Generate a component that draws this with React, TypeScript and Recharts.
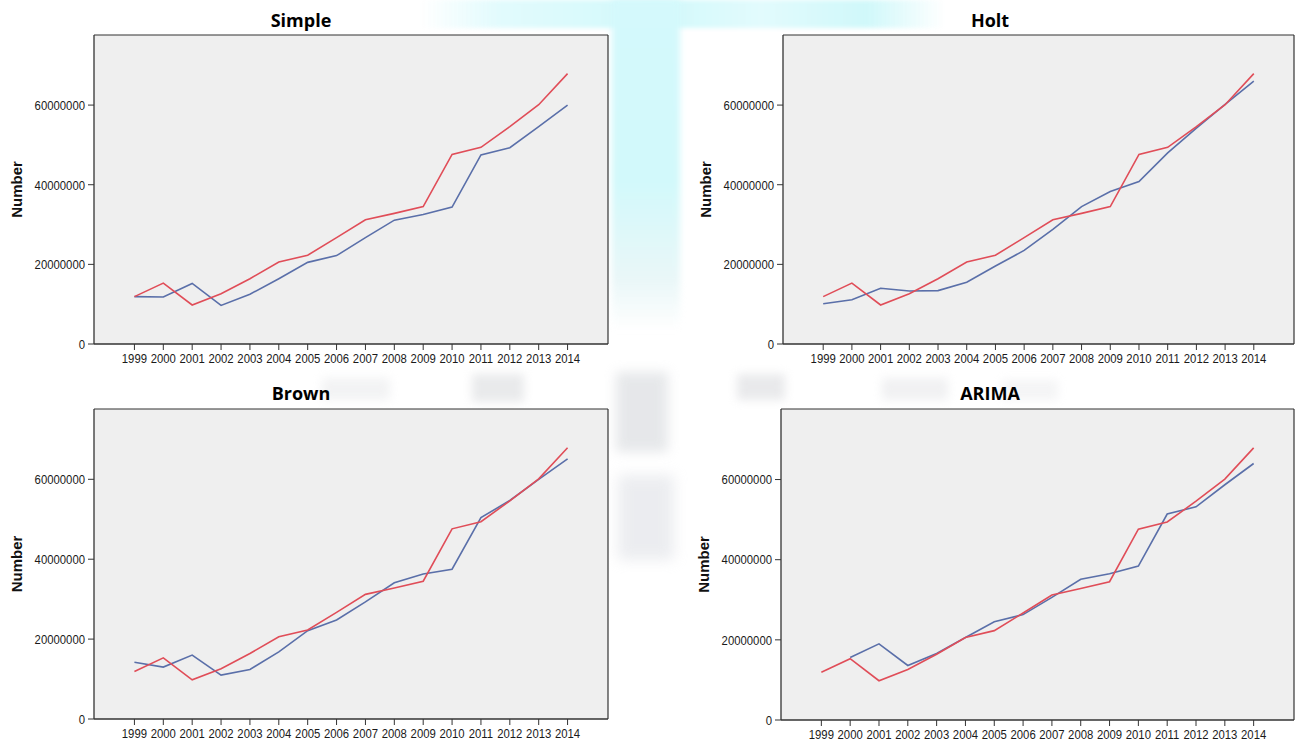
import React from 'react';
import { LineChart, Line, XAxis, YAxis, CartesianGrid, Label, ReferenceLine } from 'recharts';

// ---------- data ----------
const years = [1999, 2000, 2001, 2002, 2003, 2004, 2005, 2006, 2007, 2008, 2009, 2010, 2011, 2012, 2013, 2014];

const actualValues = [
  11900000, 15300000, 9800000, 12600000, 16400000, 20600000, 22300000, 26700000,
  31200000, 32800000, 34500000, 47600000, 49400000, 54600000, 60100000, 67900000,
];

const simpleFit = [
  11900000, 11800000, 15200000, 9700000, 12500000, 16400000, 20500000, 22200000,
  26700000, 31100000, 32500000, 34400000, 47500000, 49300000, 54600000, 60000000,
];

const holtFit = [
  10100000, 11100000, 14000000, 13300000, 13400000, 15500000, 19600000, 23500000,
  28800000, 34500000, 38300000, 40800000, 48000000, 54200000, 60200000, 66000000,
];

const brownFit = [
  14200000, 13000000, 16000000, 11000000, 12400000, 16800000, 22100000, 24800000,
  29300000, 34100000, 36300000, 37500000, 50400000, 54700000, 60000000, 65100000,
];

const arimaFit = [
  null, 15600000, 19000000, 13600000, 16600000, 20600000, 24500000, 26300000,
  30600000, 35100000, 36500000, 38400000, 51400000, 53200000, 58700000, 64000000,
];

const yTicks = [0, 20000000, 40000000, 60000000];
const yMax = 77600000;
const xDomain = [1997.6, 2015.4];

// ---------- styles ----------
const RED = '#e04d58';
const BLUE = '#5a6fa9';
const AXIS = '#333333';
const PLOT_BG = '#efefef';
const FONT = "Arial, 'Liberation Sans', sans-serif";

const XTick = (props: any) => {
  const { x, y, payload } = props;
  return (
    <g transform={`translate(${x},${y})`}>
      <text
        x={0}
        y={0}
        dy="0.71em"
        textAnchor="middle"
        transform="scale(0.84,1)"
        style={{ fontFamily: FONT, fontSize: 13.5, fill: '#1a1a1a' }}
      >
        {payload.value}
      </text>
    </g>
  );
};

const YTick = (props: any) => {
  const { x, y, payload } = props;
  return (
    <g transform={`translate(${x},${y})`}>
      <text
        x={0}
        y={0}
        dy="0.355em"
        textAnchor="end"
        transform="scale(0.84,1)"
        style={{ fontFamily: FONT, fontSize: 13.5, fill: '#1a1a1a' }}
      >
        {payload.value}
      </text>
    </g>
  );
};

const renderNumberLabel = (props: any) => {
  const vb = props && props.viewBox;
  if (!vb) return null;
  const cx = vb.x + vb.width - 78;
  const cy = vb.y + vb.height / 2;
  return (
    <text
      x={cx}
      y={cy}
      transform={`rotate(-90 ${cx} ${cy})`}
      textAnchor="middle"
      dominantBaseline="central"
      style={{ fontFamily: FONT, fontWeight: 700, fontSize: 15, fill: '#111' }}
    >
      Number
    </text>
  );
};

type PanelProps = {
  fit: (number | null)[];
  left: number;
  top: number;
  width: number;
  height: number;
  marginTop: number;
  marginBottom: number;
};

function Panel({ fit, left, top, width, height, marginTop, marginBottom }: PanelProps) {
  const data = years.map((y, i) => ({ year: y, actual: actualValues[i], fit: fit[i] }));
  return (
    <div style={{ position: 'absolute', left, top, width, height }}>
      <LineChart
        width={width}
        height={height}
        data={data}
        margin={{ top: marginTop, right: 1, bottom: marginBottom, left: 0 }}
      >
        <CartesianGrid fill={PLOT_BG} horizontal={false} vertical={false} />
        <XAxis
          dataKey="year"
          type="number"
          domain={xDomain}
          ticks={years}
          interval={0}
          height={20}
          tickSize={6}
          tickMargin={3}
          tick={<XTick />}
          tickLine={{ stroke: AXIS }}
          axisLine={{ stroke: AXIS, strokeWidth: 1.3 }}
        />
        <YAxis
          type="number"
          domain={[0, yMax]}
          ticks={yTicks}
          interval={0}
          width={94}
          tickSize={6}
          tickMargin={3}
          tick={<YTick />}
          tickLine={{ stroke: AXIS }}
          axisLine={{ stroke: AXIS, strokeWidth: 1.3 }}
        >
          <Label content={renderNumberLabel} />
        </YAxis>
        <ReferenceLine y={yMax} stroke={AXIS} strokeWidth={1.2} />
        <ReferenceLine x={xDomain[1]} stroke={AXIS} strokeWidth={1.2} />
        <Line
          type="linear"
          dataKey="fit"
          stroke={BLUE}
          strokeWidth={1.6}
          dot={false}
          activeDot={false}
          connectNulls={false}
          isAnimationActive={false}
        />
        <Line
          type="linear"
          dataKey="actual"
          stroke={RED}
          strokeWidth={1.6}
          dot={false}
          activeDot={false}
          isAnimationActive={false}
        />
      </LineChart>
    </div>
  );
}

const titleStyle: React.CSSProperties = {
  fontFamily: "'Open Sans', 'Noto Sans', sans-serif",
  fontWeight: 700,
  fontSize: 18,
  fill: '#000',
};

export default function App() {
  return (
    <div
      style={{
        position: 'absolute',
        left: 0,
        top: 0,
        width: 1295,
        height: 742,
        background: '#ffffff',
        overflow: 'hidden',
      }}
    >
      {/* faint background remnants of the source screenshot */}
      <div style={{ position: 'absolute', left: 420, top: 0, width: 525, height: 28, background: 'linear-gradient(90deg, rgba(255,255,255,0) 0%, #e2fbfd 15%, #d2f9fb 45%, #e2fbfd 65%, #d0f8fa 85%, rgba(255,255,255,0) 100%)', filter: 'blur(2px)' }} />
      <div style={{ position: 'absolute', left: 612, top: 0, width: 68, height: 330, background: 'linear-gradient(180deg, #d4f9fc 0%, #d2f9fb 55%, #eaf7f8 85%, rgba(255,255,255,0) 100%)', filter: 'blur(3px)' }} />
      <div style={{ position: 'absolute', left: 616, top: 372, width: 52, height: 80, background: '#c8ccd1', opacity: 0.45, filter: 'blur(6px)' }} />
      <div style={{ position: 'absolute', left: 618, top: 475, width: 56, height: 85, background: '#cfd2da', opacity: 0.4, filter: 'blur(7px)' }} />
      <div style={{ position: 'absolute', left: 472, top: 374, width: 52, height: 28, background: '#cfd1d4', opacity: 0.45, filter: 'blur(5px)' }} />
      <div style={{ position: 'absolute', left: 322, top: 378, width: 68, height: 22, background: '#dcdde0', opacity: 0.35, filter: 'blur(5px)' }} />
      <div style={{ position: 'absolute', left: 737, top: 374, width: 48, height: 26, background: '#cfd0d4', opacity: 0.45, filter: 'blur(5px)' }} />
      <div style={{ position: 'absolute', left: 882, top: 378, width: 66, height: 22, background: '#d6d7db', opacity: 0.35, filter: 'blur(5px)' }} />
      <div style={{ position: 'absolute', left: 1002, top: 380, width: 56, height: 20, background: '#dcdde0', opacity: 0.3, filter: 'blur(5px)' }} />

      <Panel fit={simpleFit} left={0} top={0} width={609} height={370} marginTop={35} marginBottom={6} />
      <Panel fit={holtFit} left={689} top={0} width={606} height={370} marginTop={35} marginBottom={6} />
      <Panel fit={brownFit} left={0} top={375} width={609} height={367} marginTop={34} marginBottom={3} />
      <Panel fit={arimaFit} left={687} top={375} width={608} height={367} marginTop={34} marginBottom={2} />

      <svg width={1295} height={742} style={{ position: 'absolute', left: 0, top: 0, pointerEvents: 'none' }}>
        <text x={301} y={26.5} textAnchor="middle" style={titleStyle}>Simple</text>
        <text x={990} y={26.5} textAnchor="middle" style={titleStyle}>Holt</text>
        <text x={301} y={400} textAnchor="middle" style={titleStyle}>Brown</text>
        <text x={990} y={400} textAnchor="middle" style={titleStyle}>ARIMA</text>
      </svg>
    </div>
  );
}
